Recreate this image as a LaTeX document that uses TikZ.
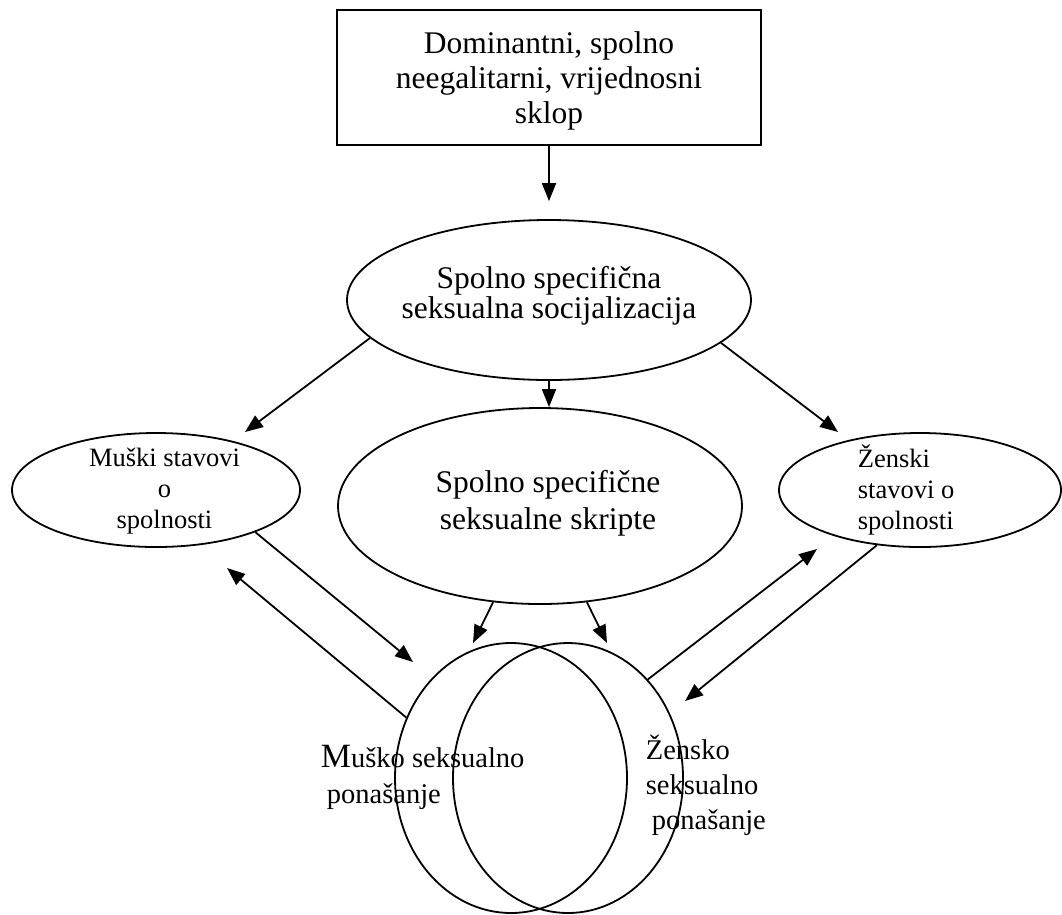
\documentclass[tikz,border=0pt]{standalone}
\usepackage{fontspec}
\setmainfont{Liberation Serif}
\usetikzlibrary{shapes.geometric,arrows.meta}

\begin{document}
\begin{tikzpicture}[x=1pt, y=-1pt, line width=1.8pt,
  >={Triangle[length=18pt,width=14pt]},
  oval/.style={draw, ellipse, inner sep=0pt},
  big/.style={font=\fontsize{31.5}{35}\selectfont, align=center, inner sep=0pt},
  small/.style={font=\fontsize{26.5}{31}\selectfont, inner sep=0pt},
  behav/.style={font=\fontsize{28.5}{36}\selectfont, align=left, inner sep=0pt, anchor=west}]
    \useasboundingbox (0,0) rectangle (1062,914);

    % Value system
    \path (549,77.5) coordinate [draw, rectangle, minimum width=424pt, minimum height=135pt] (vs)
          node (vsT) [big] at (549,81) {Dominantni, spolno\\neegalitarni, vrijednosni\\sklop};

    % Socialisation
    \path (549,300) coordinate [oval, minimum width=404pt, minimum height=160pt] (soc)
          node (socT) [big, font=\fontsize{31.5}{30}\selectfont] at (549,296) {Spolno specifična\\seksualna socijalizacija};

    % Scripts
    \path (540,506) coordinate [oval, minimum width=404pt, minimum height=196pt] (skr)
          node (skrT) [big, font=\fontsize{31.5}{37}\selectfont] at (548,503) {Spolno specifične\\seksualne skripte};

    % Attitudes
    \path (156,490) coordinate [oval, minimum width=288pt, minimum height=114pt] (mus)
          node (musT) [small, align=center] at (164.5,491) {Muški stavovi\\o\\spolnosti};
    \path (920,490) coordinate [oval, minimum width=282pt, minimum height=114pt] (zen)
          node (zenT) [small, align=left, anchor=west] at (857,490) {Ženski\\stavovi o\\spolnosti};

    % Behaviour
    \path (511,778) coordinate [oval, minimum width=232pt, minimum height=270pt] (muP);
    \path (568,778) coordinate [oval, minimum width=230pt, minimum height=270pt] (zeP);
    \node (muPT) [behav] at (320,777) {{\fontsize{34}{37}\selectfont M}uško seksualno\\\hspace*{6pt}ponašanje};
    \node (zePT) [behav, font=\fontsize{28.5}{35}\selectfont] at (645,785) {Žensko\\seksualno\\\hspace*{6pt}ponašanje};

    % Free arrow ends
    \coordinate (tL) at (245,432);
    \coordinate (tR) at (838,432);
    \coordinate (tM1) at (473,643);
    \coordinate (tM2) at (607,643);
    \coordinate (tA) at (413,662);
    \coordinate (tB) at (227,568);
    \coordinate (tC) at (817,549);
    \coordinate (tD) at (685,701);

    % Connections
    \draw [->] (vs.south) -- ([yshift=18pt]soc.north);
    \draw [->] (soc.192) -- (tL);
    \draw [->] (soc.south) -- (soc.south |- skr.north);
    \draw [->] (soc.346) -- (tR);
    \draw [->] (skr.244) -- (tM1);
    \draw [->] (skr.296) -- (tM2);
    \draw [->] (mus.337) -- (tA);
    \draw [->] (muP.150) -- (tB);
    \draw [->] (zeP.51) -- (tC);
    \draw [->] (zen.232) -- (tD);
\end{tikzpicture}
\end{document}
